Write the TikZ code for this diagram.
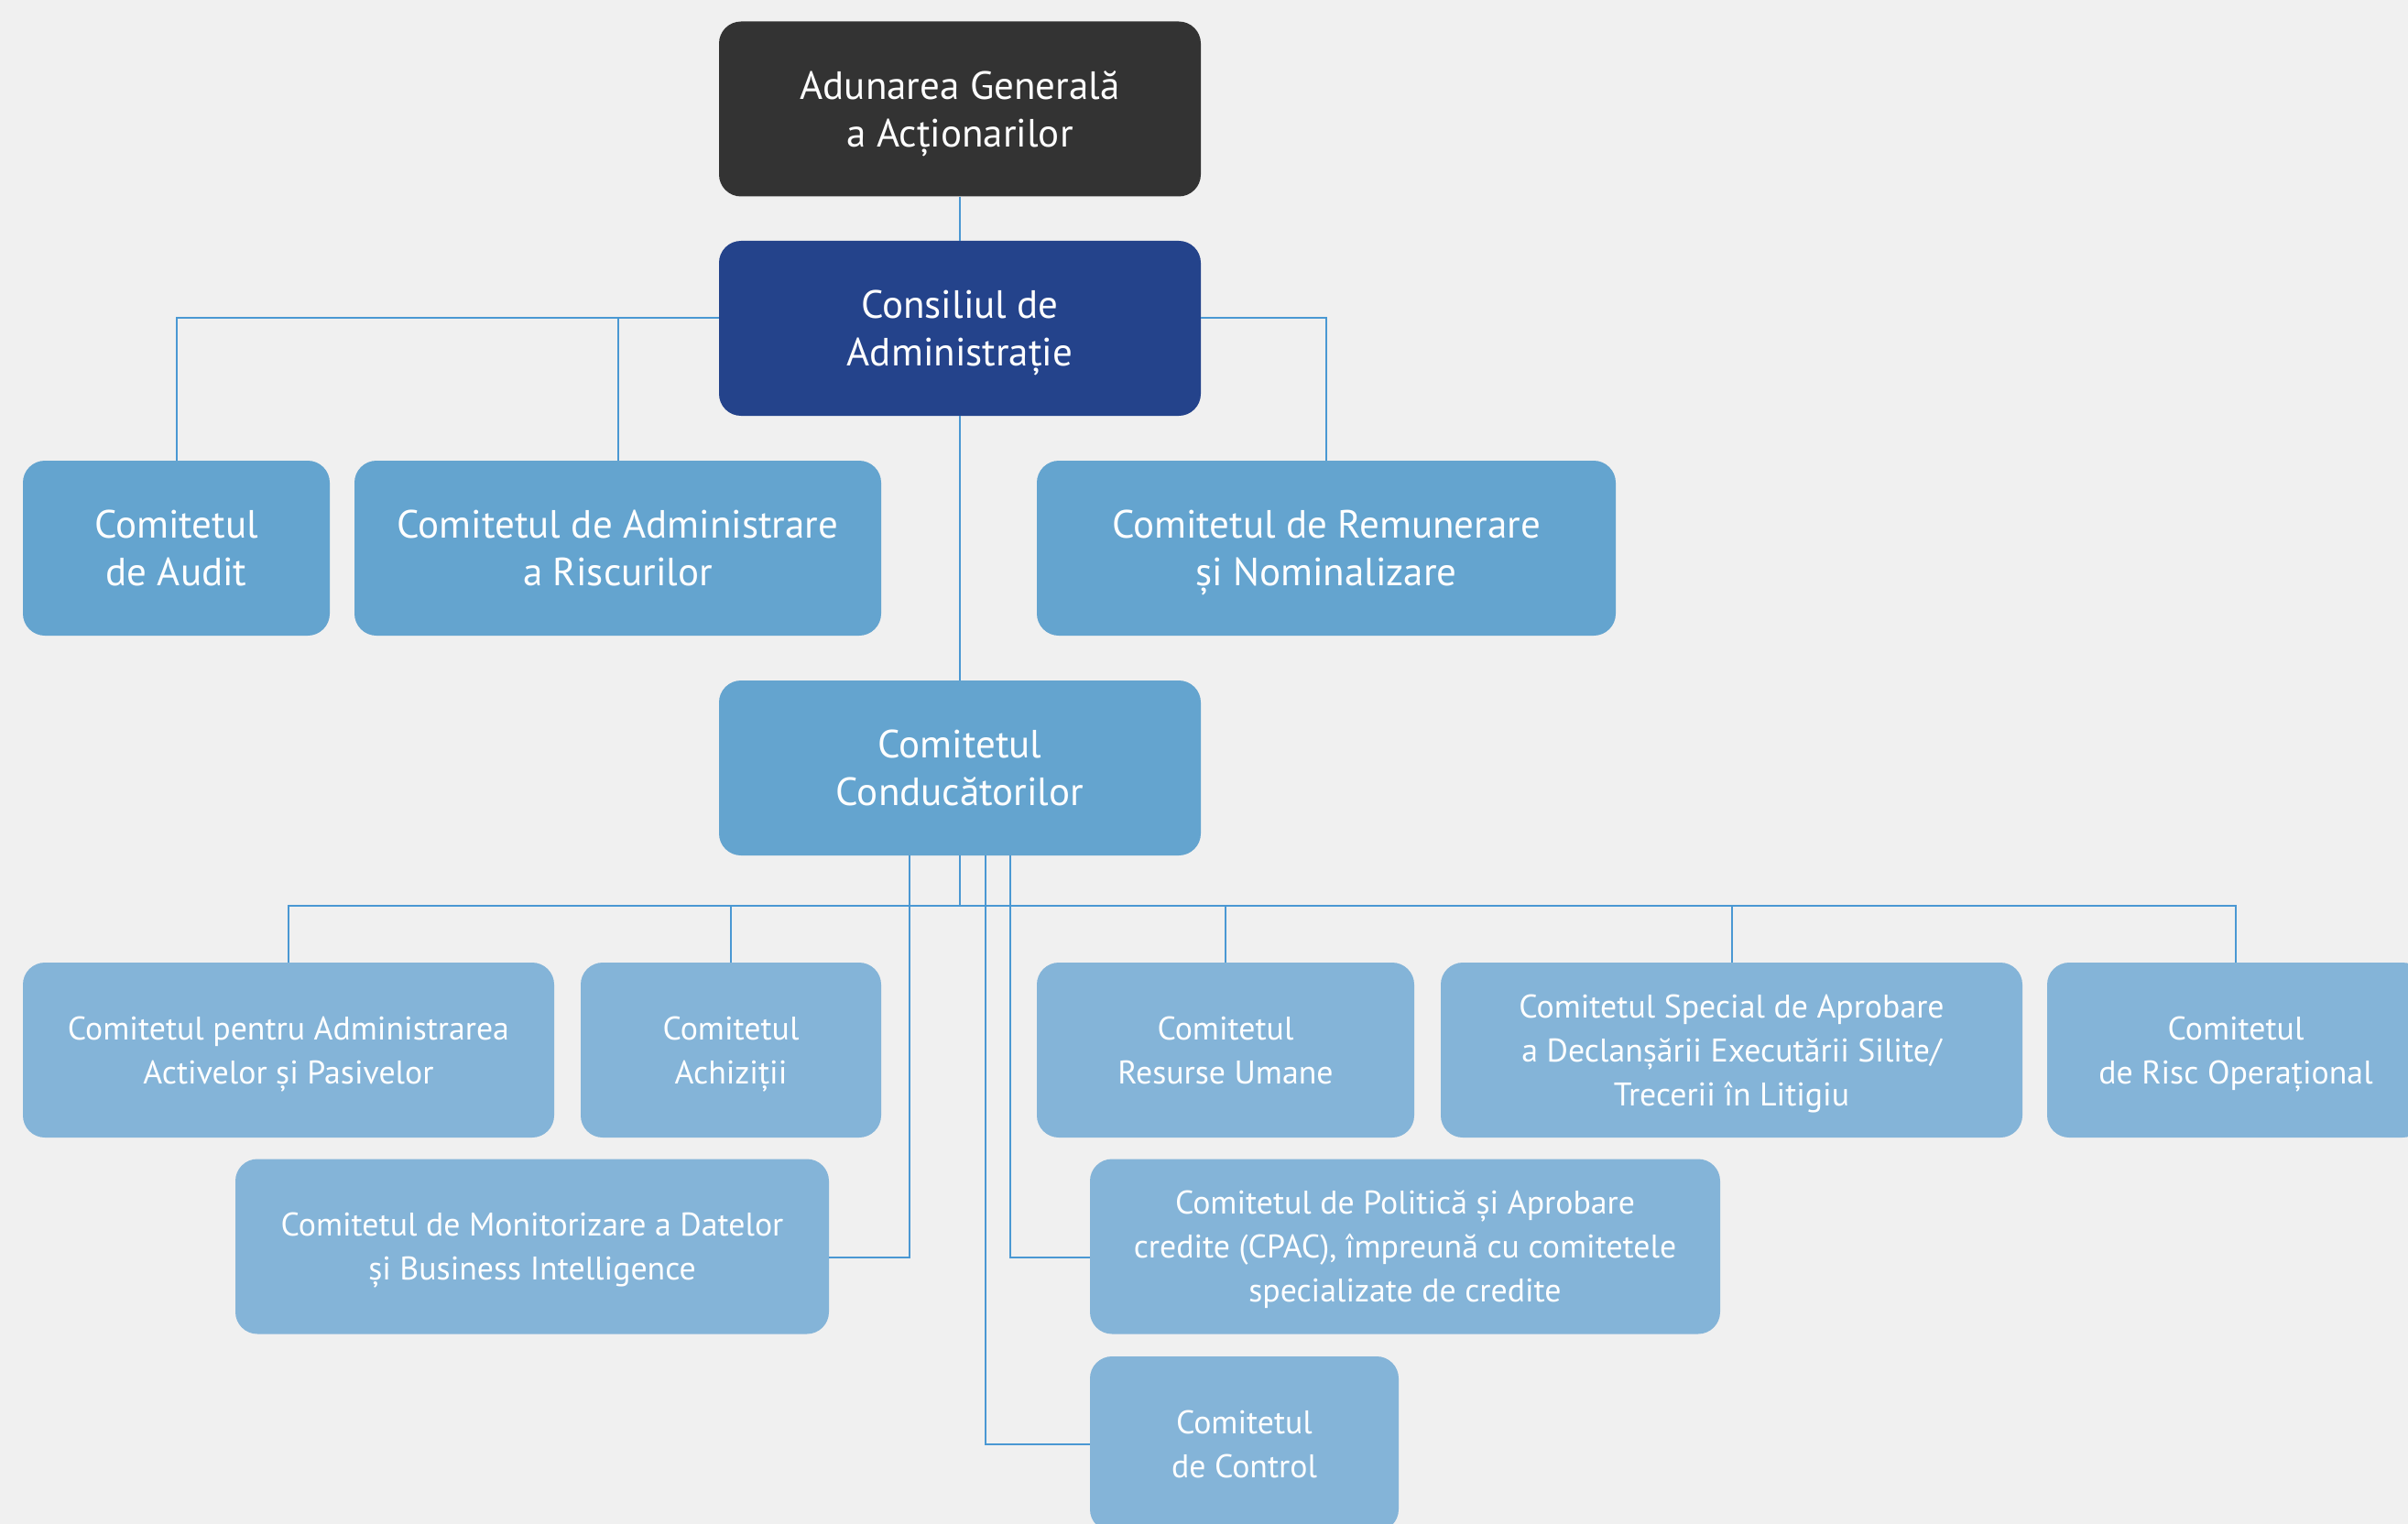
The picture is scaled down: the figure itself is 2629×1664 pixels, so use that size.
\documentclass[tikz,border=0pt]{standalone}
\usepackage{fontspec}
\setmainfont{PT Sans}
\definecolor{bg}{HTML}{F0F0F0}
\definecolor{dark}{HTML}{333333}
\definecolor{navy}{HTML}{24438B}
\definecolor{midblue}{HTML}{64A4CF}
\definecolor{lightblue}{HTML}{84B4D8}
\definecolor{linkc}{HTML}{4A98D3}
\begin{document}
\begin{tikzpicture}[x=0.5pt,y=-0.5pt,
  box/.style={rounded corners=12pt, minimum height=95.5pt, inner sep=0pt, text=white, align=center, text depth=0pt},
  bigtxt/.style={font=\fontsize{21.5}{26}\selectfont},
  smalltxt/.style={font=\fontsize{17.9}{24}\selectfont},
  link/.style={draw=linkc, line width=1pt}]
\fill[bg] (0,0) rectangle (2629,1664);
\useasboundingbox (0,0) rectangle (2629,1664);
\clip (0,0) rectangle (2629,1664);
% top levels
\node[box,bigtxt,fill=dark,minimum width=263pt] (aga) at (1048,119) {Adunarea Generală\\a Acționarilor};
\node[box,bigtxt,fill=navy,minimum width=263pt] (ca) at (1048,358.5) {Consiliul de\\Administrație};
% row 2
\node[box,bigtxt,fill=midblue,minimum width=167.5pt] (audit) at (192.5,598.5) {Comitetul\\de Audit};
\node[box,bigtxt,fill=midblue,minimum width=287.5pt] (risc) at (674.5,598.5) {Comitetul de Administrare\\a Riscurilor};
\node[box,bigtxt,fill=midblue,minimum width=316pt] (remun) at (1448,598.5) {Comitetul de Remunerare\\și Nominalizare};
% CC
\node[box,bigtxt,fill=midblue,minimum width=263pt] (cc) at (1048,838.5) {Comitetul\\Conducătorilor};
% row 4
\node[box,smalltxt,fill=lightblue,minimum width=290pt] (active) at (315,1146.5) {Comitetul pentru Administrarea\\Activelor și Pasivelor};
\node[box,smalltxt,fill=lightblue,minimum width=164pt] (achiz) at (798,1146.5) {Comitetul\\Achiziții};
\node[box,smalltxt,fill=lightblue,minimum width=206pt] (resurse) at (1338,1146.5) {Comitetul\\Resurse Umane};
\node[box,smalltxt,fill=lightblue,minimum width=317.5pt] (special) at (1890.5,1146.5) {Comitetul Special de Aprobare\\a Declanșării Executării Silite/\\Trecerii în Litigiu};
\node[box,smalltxt,fill=lightblue,minimum width=206pt] (riscop) at (2441,1146.5) {Comitetul\\de Risc Operațional};
% row 5
\node[box,smalltxt,fill=lightblue,minimum width=324pt] (monitor) at (581,1361) {Comitetul de Monitorizare a Datelor\\și Business Intelligence};
\node[box,smalltxt,fill=lightblue,minimum width=344pt] (politica) at (1534,1361) {Comitetul de Politică și Aprobare\\credite (CPAC), împreună cu comitetele\\specializate de credite};
% row 6
\node[box,smalltxt,fill=lightblue,minimum width=168.5pt] (control) at (1358.5,1576.5) {Comitetul\\de Control};
\coordinate (bus) at (1048,989);
% connectors
\draw[link] (aga) -- (ca);
\draw[link] (ca) -- (cc);
\draw[link] ([yshift=5.75pt]ca.west) -| (audit.north);
\draw[link] ([yshift=5.75pt]ca.west) -| (risc.north);
\draw[link] ([yshift=5.75pt]ca.east) -| (remun.north);
\draw[link] (cc.south) -- (bus);
\draw[link] (bus) -| (active.north);
\draw[link] (bus) -| (achiz.north);
\draw[link] (bus) -| (resurse.north);
\draw[link] (bus) -| (special.north);
\draw[link] (bus) -| (riscop.north);
\draw[link] ([xshift=-27.5pt]cc.south) |- ([yshift=-6pt]monitor.east);
\draw[link] ([xshift=27.5pt]cc.south) |- ([yshift=-6pt]politica.west);
\draw[link] ([xshift=14pt]cc.south) |- (control.west);
\end{tikzpicture}
\end{document}
